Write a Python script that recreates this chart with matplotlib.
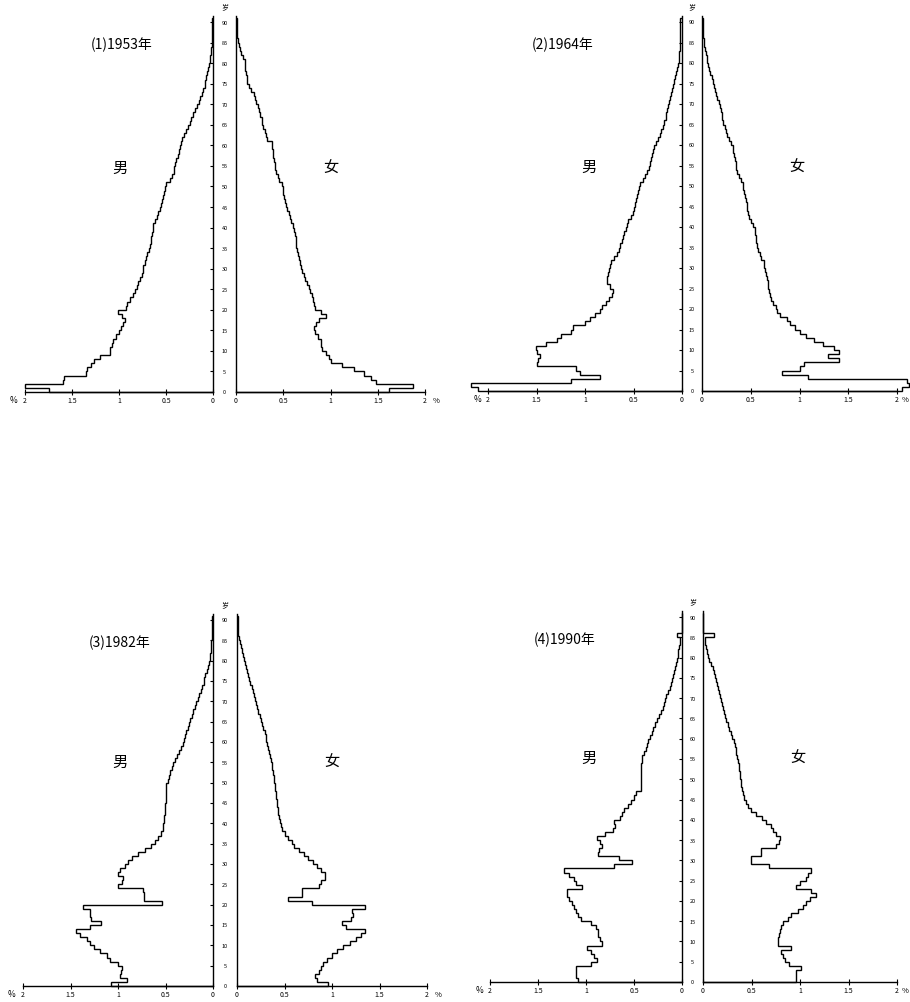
"""Four population pyramids of China (1953, 1964, 1982, 1990), single-year ages, % of total."""
import matplotlib
matplotlib.use("Agg")
import matplotlib.pyplot as plt
from matplotlib import transforms

plt.rcParams["font.family"] = ["Noto Sans CJK SC", "DejaVu Sans"]

W, H = 910, 1003

AGE_TICKS = list(range(0, 95, 5))
PCT_TICKS = [0, 0.5, 1, 1.5, 2]
PCT_LABELS = ["0", "0.5", "1", "1.5", "2"]
TITLES = ["(1)1953年", "(2)1964年", "(3)1982年", "(4)1990年"]

# percent of population at each single year of age 0..90
MALE_1953 = [
    1.75, 2.0, 1.6, 1.58, 1.35, 1.34, 1.3, 1.27, 1.2, 1.1,
    1.1, 1.07, 1.06, 1.03, 1.0, 0.98, 0.96, 0.94, 0.97, 1.01,
    0.93, 0.92, 0.88, 0.85, 0.83, 0.81, 0.8, 0.78, 0.76, 0.75,
    0.74, 0.72, 0.71, 0.7, 0.68, 0.67, 0.66, 0.66, 0.65, 0.64,
    0.64, 0.62, 0.6, 0.58, 0.56, 0.55, 0.54, 0.53, 0.52, 0.51,
    0.5, 0.46, 0.44, 0.42, 0.41, 0.4, 0.39, 0.37, 0.36, 0.35,
    0.34, 0.33, 0.31, 0.29, 0.27, 0.25, 0.23, 0.21, 0.19, 0.17,
    0.15, 0.14, 0.12, 0.11, 0.09, 0.08, 0.07, 0.06, 0.05, 0.04,
    0.035, 0.03, 0.025, 0.02, 0.015, 0.01, 0.01, 0.01, 0.01, 0.01,
    0.01,
]
FEMALE_1953 = [
    1.62, 1.87, 1.48, 1.43, 1.35, 1.25, 1.12, 1.0, 0.98, 0.95,
    0.91, 0.9, 0.9, 0.87, 0.84, 0.83, 0.85, 0.88, 0.95, 0.9,
    0.84, 0.83, 0.81, 0.8, 0.78, 0.77, 0.75, 0.73, 0.72, 0.7,
    0.69, 0.68, 0.67, 0.66, 0.65, 0.64, 0.63, 0.63, 0.62, 0.61,
    0.6, 0.58, 0.57, 0.56, 0.54, 0.53, 0.52, 0.51, 0.5, 0.5,
    0.49, 0.46, 0.44, 0.42, 0.41, 0.41, 0.4, 0.39, 0.39, 0.38,
    0.38, 0.33, 0.32, 0.31, 0.29, 0.28, 0.27, 0.25, 0.24, 0.23,
    0.21, 0.2, 0.19, 0.16, 0.14, 0.12, 0.12, 0.11, 0.1, 0.09,
    0.09, 0.07, 0.05, 0.04, 0.03, 0.02, 0.01, 0.01, 0.01, 0.01,
    0.01,
]
MALE_1964 = [
    2.1, 2.18, 1.14, 0.85, 1.05, 1.09, 1.5, 1.48, 1.46, 1.5,
    1.51, 1.4, 1.29, 1.25, 1.14, 1.12, 1.0, 0.95, 0.9, 0.85,
    0.82, 0.78, 0.75, 0.72, 0.71, 0.74, 0.77, 0.77, 0.76, 0.75,
    0.74, 0.73, 0.7, 0.67, 0.65, 0.64, 0.62, 0.61, 0.6, 0.58,
    0.57, 0.56, 0.53, 0.51, 0.49, 0.48, 0.47, 0.46, 0.45, 0.44,
    0.43, 0.4, 0.38, 0.36, 0.34, 0.33, 0.32, 0.31, 0.3, 0.29,
    0.27, 0.25, 0.23, 0.22, 0.2, 0.19, 0.17, 0.16, 0.15, 0.14,
    0.13, 0.12, 0.11, 0.1, 0.09, 0.085, 0.07, 0.06, 0.05, 0.04,
    0.035, 0.03, 0.03, 0.025, 0.02, 0.02, 0.02, 0.02, 0.02, 0.02,
    0.02,
]
FEMALE_1964 = [
    2.05, 2.12, 2.1, 1.09, 0.82, 1.0, 1.05, 1.41, 1.29, 1.41,
    1.35, 1.24, 1.15, 1.07, 1.0, 0.95, 0.9, 0.87, 0.8, 0.77,
    0.76, 0.73, 0.71, 0.7, 0.69, 0.68, 0.68, 0.67, 0.66, 0.65,
    0.64, 0.64, 0.61, 0.59, 0.57, 0.56, 0.55, 0.55, 0.54, 0.54,
    0.52, 0.5, 0.48, 0.47, 0.46, 0.46, 0.45, 0.44, 0.43, 0.42,
    0.42, 0.4, 0.38, 0.36, 0.35, 0.35, 0.34, 0.33, 0.32, 0.32,
    0.3, 0.28, 0.26, 0.25, 0.24, 0.22, 0.21, 0.2, 0.19, 0.18,
    0.17, 0.15, 0.14, 0.13, 0.12, 0.11, 0.1, 0.08, 0.07, 0.06,
    0.055, 0.05, 0.04, 0.03, 0.025, 0.02, 0.01, 0.01, 0.01, 0.01,
    0.01,
]
MALE_1982 = [
    1.07, 0.91, 0.98, 0.97, 0.96, 1.0, 1.08, 1.12, 1.19, 1.25,
    1.3, 1.33, 1.4, 1.44, 1.3, 1.18, 1.28, 1.29, 1.3, 1.37,
    0.54, 0.73, 0.73, 0.74, 1.0, 0.96, 0.95, 1.0, 0.98, 0.93,
    0.89, 0.85, 0.79, 0.72, 0.65, 0.61, 0.58, 0.55, 0.53, 0.53,
    0.52, 0.52, 0.51, 0.51, 0.51, 0.5, 0.5, 0.5, 0.49, 0.49,
    0.47, 0.46, 0.45, 0.43, 0.42, 0.4, 0.38, 0.36, 0.34, 0.32,
    0.31, 0.29, 0.28, 0.26, 0.25, 0.24, 0.22, 0.21, 0.19, 0.18,
    0.16, 0.15, 0.13, 0.12, 0.1, 0.09, 0.08, 0.06, 0.05, 0.04,
    0.035, 0.03, 0.025, 0.02, 0.02, 0.01, 0.01, 0.01, 0.01, 0.01,
    0.01,
]
FEMALE_1982 = [
    0.96, 0.84, 0.82, 0.86, 0.88, 0.9, 0.95, 1.0, 1.05, 1.12,
    1.19, 1.25, 1.3, 1.35, 1.15, 1.1, 1.2, 1.22, 1.21, 1.35,
    0.79, 0.54, 0.68, 0.68, 0.86, 0.88, 0.93, 0.93, 0.88, 0.84,
    0.8, 0.75, 0.7, 0.65, 0.6, 0.58, 0.54, 0.5, 0.47, 0.46,
    0.45, 0.44, 0.43, 0.43, 0.42, 0.42, 0.41, 0.41, 0.4, 0.4,
    0.39, 0.39, 0.38, 0.37, 0.37, 0.36, 0.35, 0.34, 0.33, 0.32,
    0.31, 0.3, 0.29, 0.27, 0.26, 0.25, 0.24, 0.22, 0.21, 0.2,
    0.19, 0.18, 0.17, 0.16, 0.14, 0.13, 0.12, 0.11, 0.09, 0.08,
    0.07, 0.06, 0.05, 0.04, 0.03, 0.02, 0.01, 0.01, 0.01, 0.01,
    0.01,
]
MALE_1990 = [
    1.08, 1.1, 1.1, 1.1, 0.95, 0.89, 0.92, 0.95, 0.99, 0.83,
    0.85, 0.87, 0.87, 0.9, 0.95, 1.05, 1.08, 1.1, 1.13, 1.15,
    1.18, 1.2, 1.2, 1.04, 1.1, 1.13, 1.18, 1.23, 0.71, 0.52,
    0.66, 0.87, 0.86, 0.83, 0.85, 0.89, 0.8, 0.72, 0.7, 0.71,
    0.65, 0.63, 0.6, 0.56, 0.53, 0.5, 0.48, 0.43, 0.43, 0.43,
    0.43, 0.43, 0.43, 0.43, 0.42, 0.42, 0.4, 0.38, 0.36, 0.35,
    0.33, 0.31, 0.3, 0.28, 0.26, 0.24, 0.22, 0.2, 0.19, 0.18,
    0.17, 0.15, 0.13, 0.11, 0.1, 0.09, 0.08, 0.07, 0.06, 0.05,
    0.045, 0.04, 0.03, 0.025, 0.02, 0.05, 0.0, 0.0, 0.0, 0.0,
    0.0,
]
FEMALE_1990 = [
    0.96, 0.96, 0.96, 1.01, 0.89, 0.85, 0.82, 0.8, 0.91, 0.77,
    0.77, 0.78, 0.79, 0.8, 0.82, 0.88, 0.91, 0.98, 1.03, 1.06,
    1.1, 1.17, 1.11, 0.96, 1.0, 1.06, 1.08, 1.11, 0.68, 0.49,
    0.49, 0.6, 0.6, 0.75, 0.78, 0.79, 0.75, 0.72, 0.7, 0.65,
    0.61, 0.55, 0.49, 0.46, 0.44, 0.42, 0.41, 0.4, 0.39, 0.39,
    0.38, 0.38, 0.37, 0.37, 0.36, 0.35, 0.34, 0.34, 0.33, 0.32,
    0.3, 0.29, 0.27, 0.26, 0.24, 0.23, 0.22, 0.21, 0.2, 0.19,
    0.18, 0.17, 0.15, 0.14, 0.13, 0.12, 0.11, 0.1, 0.08, 0.06,
    0.05, 0.04, 0.03, 0.025, 0.02, 0.11, 0.0, 0.0, 0.0, 0.0,
    0.0,
]
MALES = [MALE_1953, MALE_1964, MALE_1982, MALE_1990]
FEMALES = [FEMALE_1953, FEMALE_1964, FEMALE_1982, FEMALE_1990]

# panel geometry in pixels: male 2% x, male 0 x, female 0 x, female 2% x, age-0 y, age-90 y
GEOM = [
    (25, 213, 236, 425, 393, 23),
    (488, 682, 702, 897, 392, 23),
    (23, 213, 237, 427, 987, 621),
    (490, 682, 703, 897, 983, 618),
]
TOP_AGE = 91.5


def add_px_axes(fig, x0, x1, ytop, ybot):
    return fig.add_axes([x0 / W, 1 - ybot / H, (x1 - x0) / W, (ybot - ytop) / H])


def style_half(ax, male):
    ax.set_xlim((2, 0) if male else (0, 2))
    ax.set_ylim(0, TOP_AGE)
    ax.spines["top"].set_visible(False)
    ax.spines["left" if male else "right"].set_visible(False)
    for s in ax.spines.values():
        s.set_linewidth(1.0)
    ax.set_xticks(PCT_TICKS, PCT_LABELS)
    ax.tick_params(axis="x", direction="inout", length=4, width=0.8, pad=1,
                   labelsize=5)
    if male:
        ax.yaxis.tick_right()
        ax.set_yticks(AGE_TICKS)
        ax.tick_params(axis="y", direction="in", length=2, width=0.8,
                       labelright=False)
    else:
        ax.set_yticks([])
    ax.patch.set_alpha(0)


def main():
    fig = plt.figure(figsize=(W / 100, H / 100), dpi=100)
    edges = list(range(len(MALE_1953) + 1))
    for i, (x2m, x0m, x0f, x2f, y0, y90) in enumerate(GEOM):
        ytop = y0 - TOP_AGE * (y0 - y90) / 90
        axm = add_px_axes(fig, x2m, x0m, ytop, y0)
        axf = add_px_axes(fig, x0f, x2f, ytop, y0)
        style_half(axm, True)
        style_half(axf, False)
        axm.stairs(MALES[i], edges, orientation="horizontal", baseline=0,
                   color="black", lw=1.0, clip_on=False)
        axf.stairs(FEMALES[i], edges, orientation="horizontal", baseline=0,
                   color="black", lw=1.0, clip_on=False)

        # age labels in the gap between the halves
        cx = (x0m + x0f) / 2 / W
        tr = transforms.blended_transform_factory(fig.transFigure, axm.transData)
        for a in AGE_TICKS:
            axm.text(cx, a, str(a), transform=tr, ha="center", va="center",
                     fontsize=4, clip_on=False)
        fig.text(cx, 1 - (ytop - 10) / H, "岁", ha="center", va="center",
                 fontsize=5)
        # percent signs at both ends of the x axis
        fig.text((x2m - 11) / W, 1 - (y0 + 8) / H, "%", ha="center",
                 va="center", fontsize=6)
        fig.text(min(x2f + 11, W - 5) / W, 1 - (y0 + 8) / H, "%", ha="center",
                 va="center", fontsize=5.5)

        left = x2m if i % 2 == 0 else x2m - 22
        fig.text((left + 97) / W, 1 - (y90 + 22) / H, TITLES[i], ha="center",
                 va="center", fontsize=10)
        fig.text((x0m - 93) / W, 1 - (y0 - 225) / H, "男", ha="center",
                 va="center", fontsize=11)
        fig.text((x0f + 95) / W, 1 - (y0 - 225) / H, "女", ha="center",
                 va="center", fontsize=11)

    fig.savefig("out.png", dpi=100, facecolor="white")
    plt.close(fig)


if __name__ == "__main__":
    main()
